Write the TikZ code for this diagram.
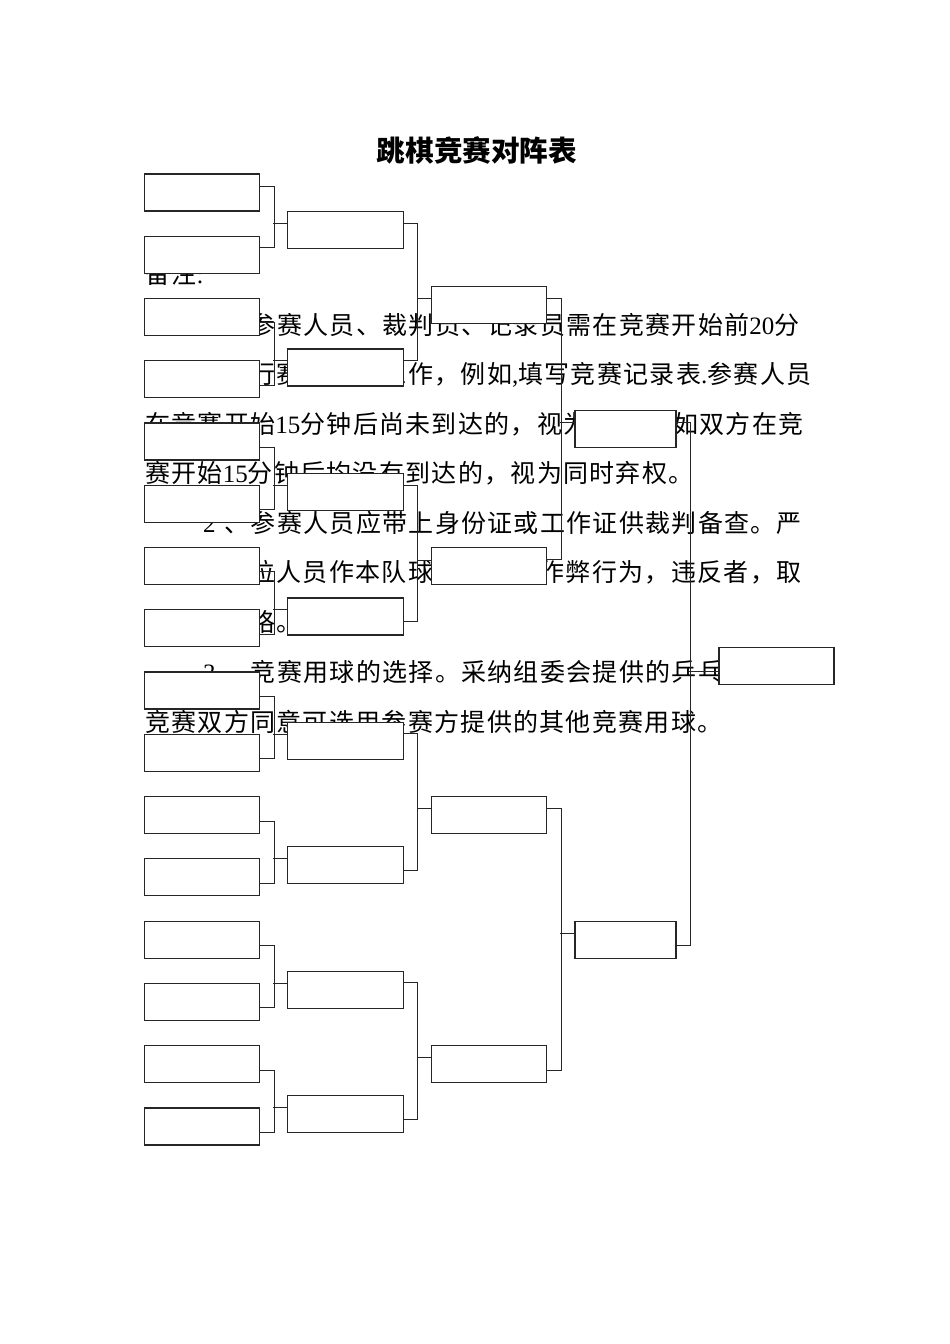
\documentclass[tikz,border=0pt]{standalone}
\usepackage{fontspec}
\setmainfont{Liberation Serif}
\newfontfamily\cjk[LetterSpace=5.2]{Noto Sans CJK SC}
\newfontfamily\cjktitle{Noto Sans CJK SC}
\usetikzlibrary{positioning,calc}
\newcommand\zh[1]{{\cjk #1}}

\begin{document}
\begin{tikzpicture}[x=1pt,y=-1pt]
\tikzset{pbox/.style={draw=black!85,fill=white,line width=1.2pt,anchor=north west,inner sep=0pt,minimum width=115.5pt,minimum height=37pt}}
\tikzset{txt/.style={anchor=base west,inner sep=0pt,font=\fontsize{25}{30}\selectfont}}
\tikzset{link/.style={draw=black!85,line width=1pt}}
\path[fill=white] (0,0) rectangle (950,1344);
\node[anchor=base,inner sep=0pt,font=\cjktitle\bfseries\fontsize{28.6}{32}\selectfont] (title) at (477,161) {跳棋竞赛对阵表};
% the notes behind the boxes
\node[txt] (note) at (145,283) {\zh{备注}:};
\node[txt] (l1) at (145,334) {\hspace*{58pt}1\hspace{9pt}\zh{、参赛人员、裁判员、记录员需在竞赛开始前}20\zh{分}};
\node[txt] (l2) at (145,383) {\zh{钟到场进行赛前准备工作，例如},\zh{填写竞赛记录表}.\zh{参赛人员}};
\node[txt] (l3) at (145,433) {\zh{在竞赛开始}15\zh{分钟后尚未到达的，视为弃权。}\hspace{6pt}\zh{如双方在竞}};
\node[txt] (l4) at (145,482) {\zh{赛开始}15\zh{分钟后均没有到达的，视为同时弃权。}};
\node[txt] (l5) at (145,532) {\hspace*{58pt}2\hspace{9pt}\zh{、参赛人员应带上身份证或工作证供裁判备查。严}};
\node[txt] (l6) at (145,581) {\zh{禁其他单位人员作本队球员参赛等作弊行为，违反者，取}};
\node[txt] (l7) at (145,631) {\zh{消参赛资格。}};
\node[txt] (l8) at (145,681) {\hspace*{58pt}3\hspace{9pt}\zh{、竞赛用球的选择。采纳组委会提供的乒乓球，如}};
\node[txt] (l9) at (145,731) {\zh{竞赛双方同意可选用参赛方提供的其他竞赛用球。}};
% bracket boxes
\foreach \i in {1,...,16}
  \node[pbox] (r1-\i) at (143.5,{173.3+62.27*(\i-1)}) {};
\foreach \i/\t in {1/210.7,2/348.3,3/472.7,4/597.3,5/721.7,6/846,7/971,8/1095}
  \node[pbox] (r2-\i) at (287,\t) {};
\foreach \i/\t in {1/285.7,2/546.7,3/796,4/1045}
  \node[pbox] (r3-\i) at (430.5,\t) {};
\node[pbox,minimum width=101pt] (r4-1) at (574.3,410) {};
\node[pbox,minimum width=101pt] (r4-2) at (574.3,920.7) {};
\node[pbox,minimum width=115pt] (fin) at (718.3,646.7) {};
% connectors
\foreach \a/\ya/\b/\yb/\c/\yc in {r1-1/12.7/r1-2/12.3/r2-1/12.6, r1-3/25/r1-4/25/r2-2/12.3,
  r1-5/25/r1-6/25/r2-3/12.3, r1-7/25/r1-8/25/r2-4/12.3, r1-9/25/r1-10/25/r2-5/12.3,
  r1-11/25/r1-12/25/r2-6/12.3, r1-13/25/r1-14/25/r2-7/12.3, r1-15/25/r1-16/25/r2-8/12.3,
  r2-1/12.6/r2-2/11.7/r3-1/12.6, r2-3/12.3/r2-4/24.4/r3-2/13.3,
  r2-5/11.6/r2-6/24/r3-3/12.3, r2-7/11.7/r2-8/24.3/r3-4/12.3,
  r3-1/12.6/r3-2/12.6/r4-1/12.7, r3-3/12.3/r3-4/25/r4-2/12.6}
{
  \draw[link] ([yshift=-\ya]\a.north east) -- ++(14,0) |- ([yshift=-\yb]\b.north east);
  \draw[link] ([yshift=-\yc]\c.north west) -- ++(-14,0);
}
\draw[link] ([yshift=-12.7]r4-1.north east) -- ++(13.7,0) |- ([yshift=-24.3]r4-2.north east);
\draw[link] ([yshift=-25]fin.north west) -- ++(-29.3,0);
\end{tikzpicture}
\end{document}
